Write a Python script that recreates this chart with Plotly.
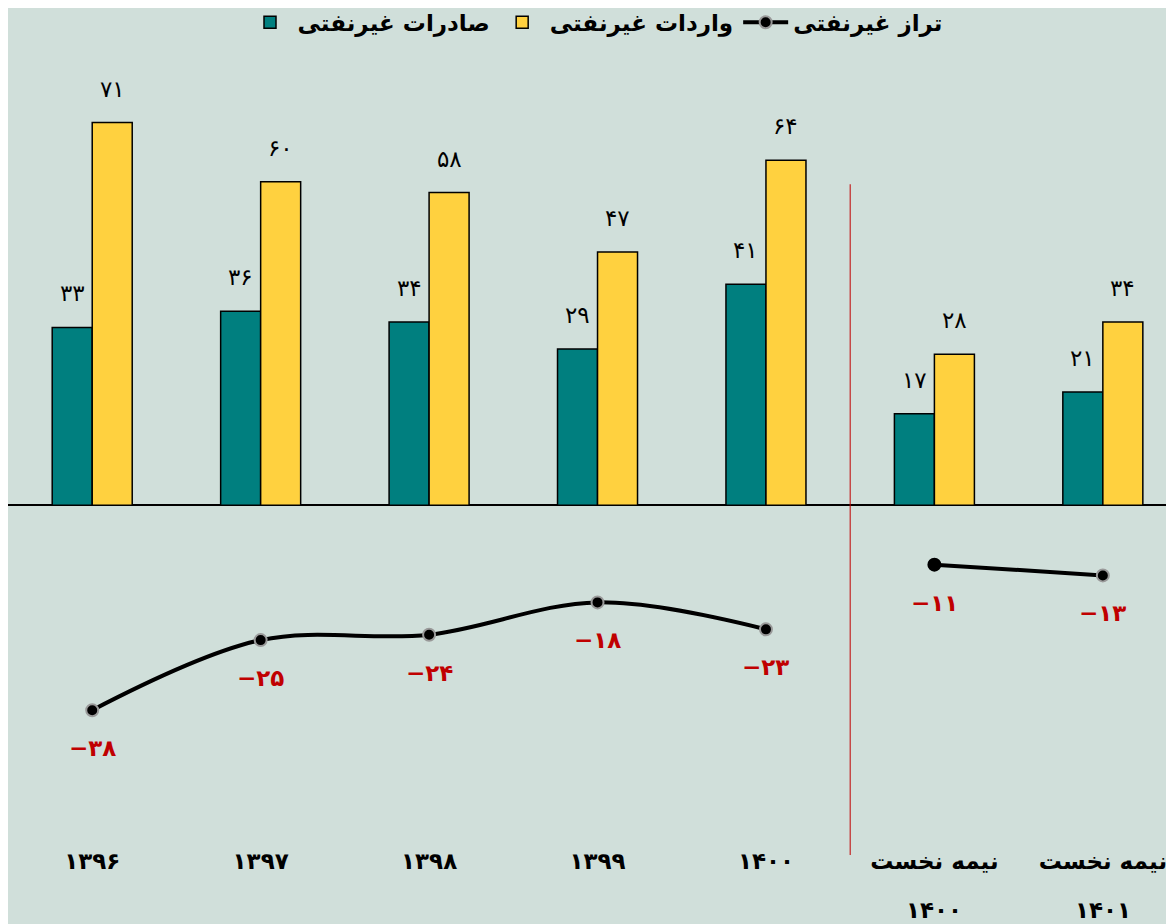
import plotly.graph_objects as go

# داده‌ها (میلیارد دلار)
cats = ["y1396", "y1397", "y1398", "y1399", "y1400", "h1400", "h1401"]
tick_labels = ["۱۳۹۶", "۱۳۹۷", "۱۳۹۸", "۱۳۹۹", "۱۴۰۰", "نیمه نخست", "نیمه نخست"]
tick_labels2 = ["", "", "", "", "", "۱۴۰۰", "۱۴۰۱"]
exports = [33, 36, 34, 29, 41, 17, 21]
imports = [71, 60, 58, 47, 64, 28, 34]
balance_years = [-38, -25, -24, -18, -23]
balance_half = [-11, -13]

def fa(n):
    return str(n).translate(str.maketrans("0123456789-", "۰۱۲۳۴۵۶۷۸۹−"))

FONT = "DejaVu Sans"
teal = "#007F7F"
yellow = "#FFD13F"
bg = "#D0DFDA"

fig = go.Figure()
fig.add_trace(go.Bar(x=cats, y=exports, name="<b>صادرات غیرنفتی</b>",
                     marker=dict(color=teal, line=dict(color="black", width=1.5))))
fig.add_trace(go.Bar(x=cats, y=imports, name="<b>واردات غیرنفتی</b>",
                     marker=dict(color=yellow, line=dict(color="black", width=1.5))))
fig.add_trace(go.Scatter(x=cats[:5], y=balance_years, name="<b>تراز غیرنفتی</b>",
                         mode="lines+markers", line=dict(color="black", width=4, shape="spline"),
                         marker=dict(size=12, color="black", line=dict(color="#999999", width=2))))
fig.add_trace(go.Scatter(x=cats[5:], y=balance_half, showlegend=False,
                         mode="lines+markers", line=dict(color="black", width=4, shape="spline"),
                         marker=dict(size=12, color="black",
                                     line=dict(color=["black", "#999999"], width=2))))

# برچسب ستون‌ها
for c, e, i in zip(cats, exports, imports):
    fig.add_annotation(x=c, y=e, text=fa(e), showarrow=False, xshift=-20, yshift=34,
                       font=dict(family=FONT, size=23, color="black"))
    fig.add_annotation(x=c, y=i, text=fa(i), showarrow=False, xshift=20, yshift=34,
                       font=dict(family=FONT, size=23, color="black"))

# برچسب تراز
for c, b in zip(cats, balance_years + balance_half):
    fig.add_annotation(x=c, y=b, text="<b>" + fa(b) + "</b>", showarrow=False, yshift=-38,
                       font=dict(family=FONT, size=23, color="#C00000"))

# سطر دوم برچسب محور
for c, t in zip(cats, tick_labels2):
    if t:
        fig.add_annotation(x=c, y=0, yref="paper", yanchor="middle", yshift=-65,
                           text="<b>" + t + "</b>", showarrow=False,
                           font=dict(family=FONT, size=23, color="black"))

# خط جداکننده
fig.add_shape(type="line", xref="x", yref="paper", x0=4.5, x1=4.5, y0=-0.013, y1=0.857,
              line=dict(color="#C00000", width=1))

fig.update_layout(
    width=1174, height=924,
    paper_bgcolor=bg, plot_bgcolor=bg,
    barmode="group", bargap=0.525, bargroupgap=0,
    margin=dict(l=0, r=0, t=66, b=87, autoexpand=False),
    font=dict(family=FONT, size=20, color="black"),
    legend=dict(orientation="h", x=0.5, xanchor="center", y=1.067, yanchor="middle",
                font=dict(family=FONT, size=23), bgcolor="rgba(0,0,0,0)", itemwidth=45),
    showlegend=True,
)
fig.update_xaxes(type="category", range=[-0.5, 6.47], tickvals=cats,
                 ticktext=["<b>" + t + "</b>" for t in tick_labels],
                 tickfont=dict(family=FONT, size=23), showgrid=False, showline=False, ticks="",
                 automargin=False)
fig.update_yaxes(range=[-63, 80], visible=True, showticklabels=False, showgrid=False,
                 zeroline=True, zerolinecolor="black", zerolinewidth=1.5, automargin=False)

fig.write_html("out.html")
